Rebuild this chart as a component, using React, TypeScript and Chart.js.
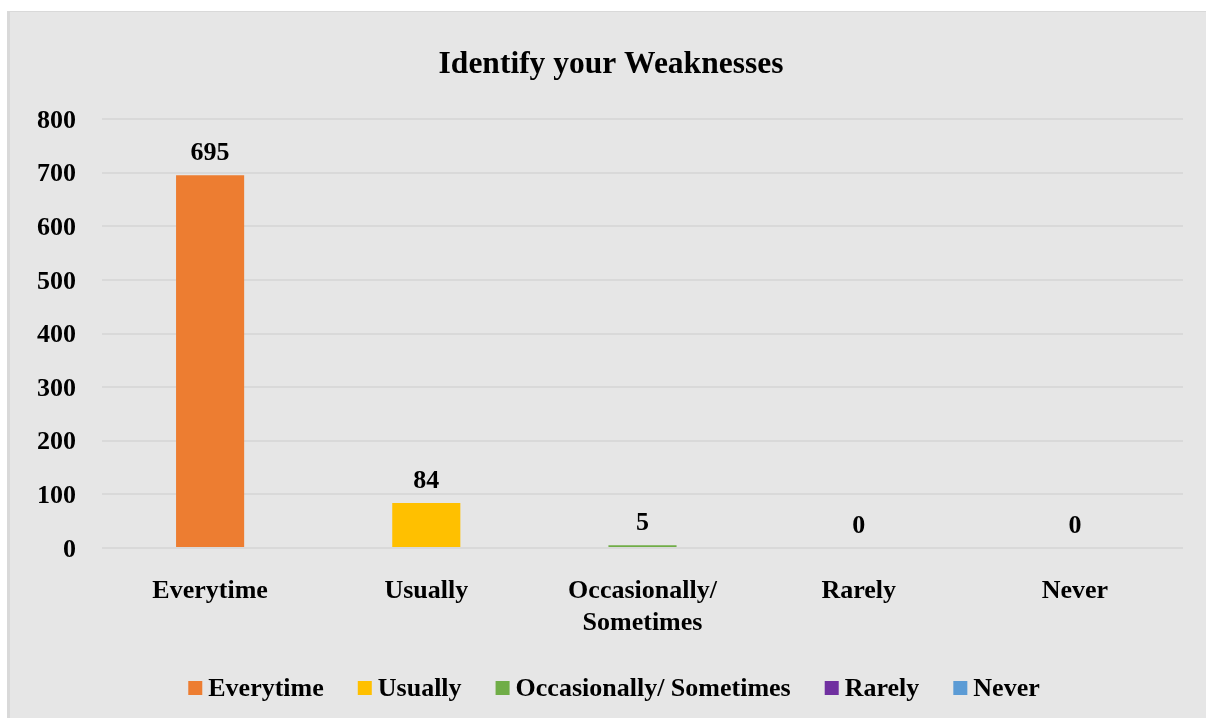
import React, { useEffect, useRef } from "react";
import { Chart, registerables } from "chart.js";

Chart.register(...registerables);

const categories: (string | string[])[] = ["Everytime", "Usually", ["Occasionally/", "Sometimes"], "Rarely", "Never"];
const legendLabels: string[] = ["Everytime", "Usually", "Occasionally/ Sometimes", "Rarely", "Never"];
const values: number[] = [695, 84, 5, 0, 0];
const barColors: string[] = ["#ED7D31", "#FFC000", "#70AD47", "#7030A0", "#5B9BD5"];
const yTicks: number[] = [0, 100, 200, 300, 400, 500, 600, 700, 800];
const titleText = "Identify your Weaknesses";

const FONT = '"Liberation Serif", "Times New Roman", serif';
const W = 1196;
const H = 706;

const overlayPlugin = {
  id: "overlay",
  afterDatasetsDraw(chart: any) {
    const ctx = chart.ctx as CanvasRenderingContext2D;
    const meta = chart.getDatasetMeta(0);
    ctx.save();
    ctx.fillStyle = "#000";
    ctx.font = `bold 26px ${FONT}`;
    ctx.textAlign = "center";
    ctx.textBaseline = "middle";
    meta.data.forEach((bar: any, i: number) => {
      ctx.fillText(String(values[i]), bar.x, bar.y - 22);
    });
    ctx.restore();
  },
  afterDraw(chart: any) {
    const ctx = chart.ctx as CanvasRenderingContext2D;
    ctx.save();
    // title
    ctx.fillStyle = "#000";
    ctx.font = `bold 31.5px ${FONT}`;
    ctx.textAlign = "center";
    ctx.textBaseline = "middle";
    ctx.fillText(titleText, W / 2 + 3, 53);
    // legend
    ctx.font = `bold 26px ${FONT}`;
    const box = 14;
    const gap = 6;
    const spacing = 34;
    const widths = legendLabels.map((l) => ctx.measureText(l).width);
    const total = widths.reduce((a, w) => a + box + gap + w, 0) + spacing * (legendLabels.length - 1);
    let x = W / 2 + 6 - total / 2;
    const cy = 676;
    ctx.textAlign = "left";
    legendLabels.forEach((l, i) => {
      ctx.fillStyle = barColors[i];
      ctx.fillRect(x, cy - box / 2, box, box);
      ctx.fillStyle = "#000";
      ctx.fillText(l, x + box + gap, cy + 1);
      x += box + gap + widths[i] + spacing;
    });
    ctx.restore();
  },
};

export default function App() {
  const ref = useRef<HTMLCanvasElement | null>(null);
  useEffect(() => {
    if (!ref.current) return;
    const chart = new Chart(ref.current, {
      type: "bar",
      data: {
        labels: categories as any,
        datasets: [
          {
            label: "Identify your Weaknesses",
            data: values,
            backgroundColor: barColors,
            borderWidth: 0,
            barPercentage: 1,
            categoryPercentage: 0.315,
          },
        ],
      },
      options: {
        responsive: false,
        animation: false,
        layout: { padding: { left: 0, top: 107, right: 23, bottom: 0 } },
        plugins: {
          legend: { display: false },
          title: { display: false },
          tooltip: { enabled: false },
        },
        scales: {
          x: {
            grid: { display: false, drawTicks: false },
            border: { display: false },
            ticks: {
              color: "#000",
              font: { family: FONT, size: 26, weight: "bold" },
              padding: 28,
              maxRotation: 0,
              autoSkip: false,
            },
            afterFit: (s: any) => {
              s.height = 170;
            },
          },
          y: {
            min: 0,
            max: 800,
            afterBuildTicks: (s: any) => {
              s.ticks = yTicks.map((v) => ({ value: v }));
            },
            grid: { color: "#D9D9D9", lineWidth: 2, drawTicks: false },
            border: { display: false },
            ticks: {
              color: "#000",
              font: { family: FONT, size: 26, weight: "bold" },
              padding: 26,
              labelOffset: 2,
            },
            afterFit: (s: any) => {
              s.width = 92;
            },
          },
        },
      },
      plugins: [overlayPlugin],
    });
    return () => chart.destroy();
  }, []);
  return (
    <div
      style={{
        position: "fixed",
        left: 7,
        top: 11,
        width: 1199,
        height: 707,
        boxSizing: "border-box",
        background: "#E6E6E6",
        borderLeft: "3px solid #D9D9D9",
        borderTop: "1px solid #D9D9D9",
        overflow: "hidden",
      }}
    >
      <canvas ref={ref} width={W} height={H} style={{ display: "block" }} />
    </div>
  );
}
